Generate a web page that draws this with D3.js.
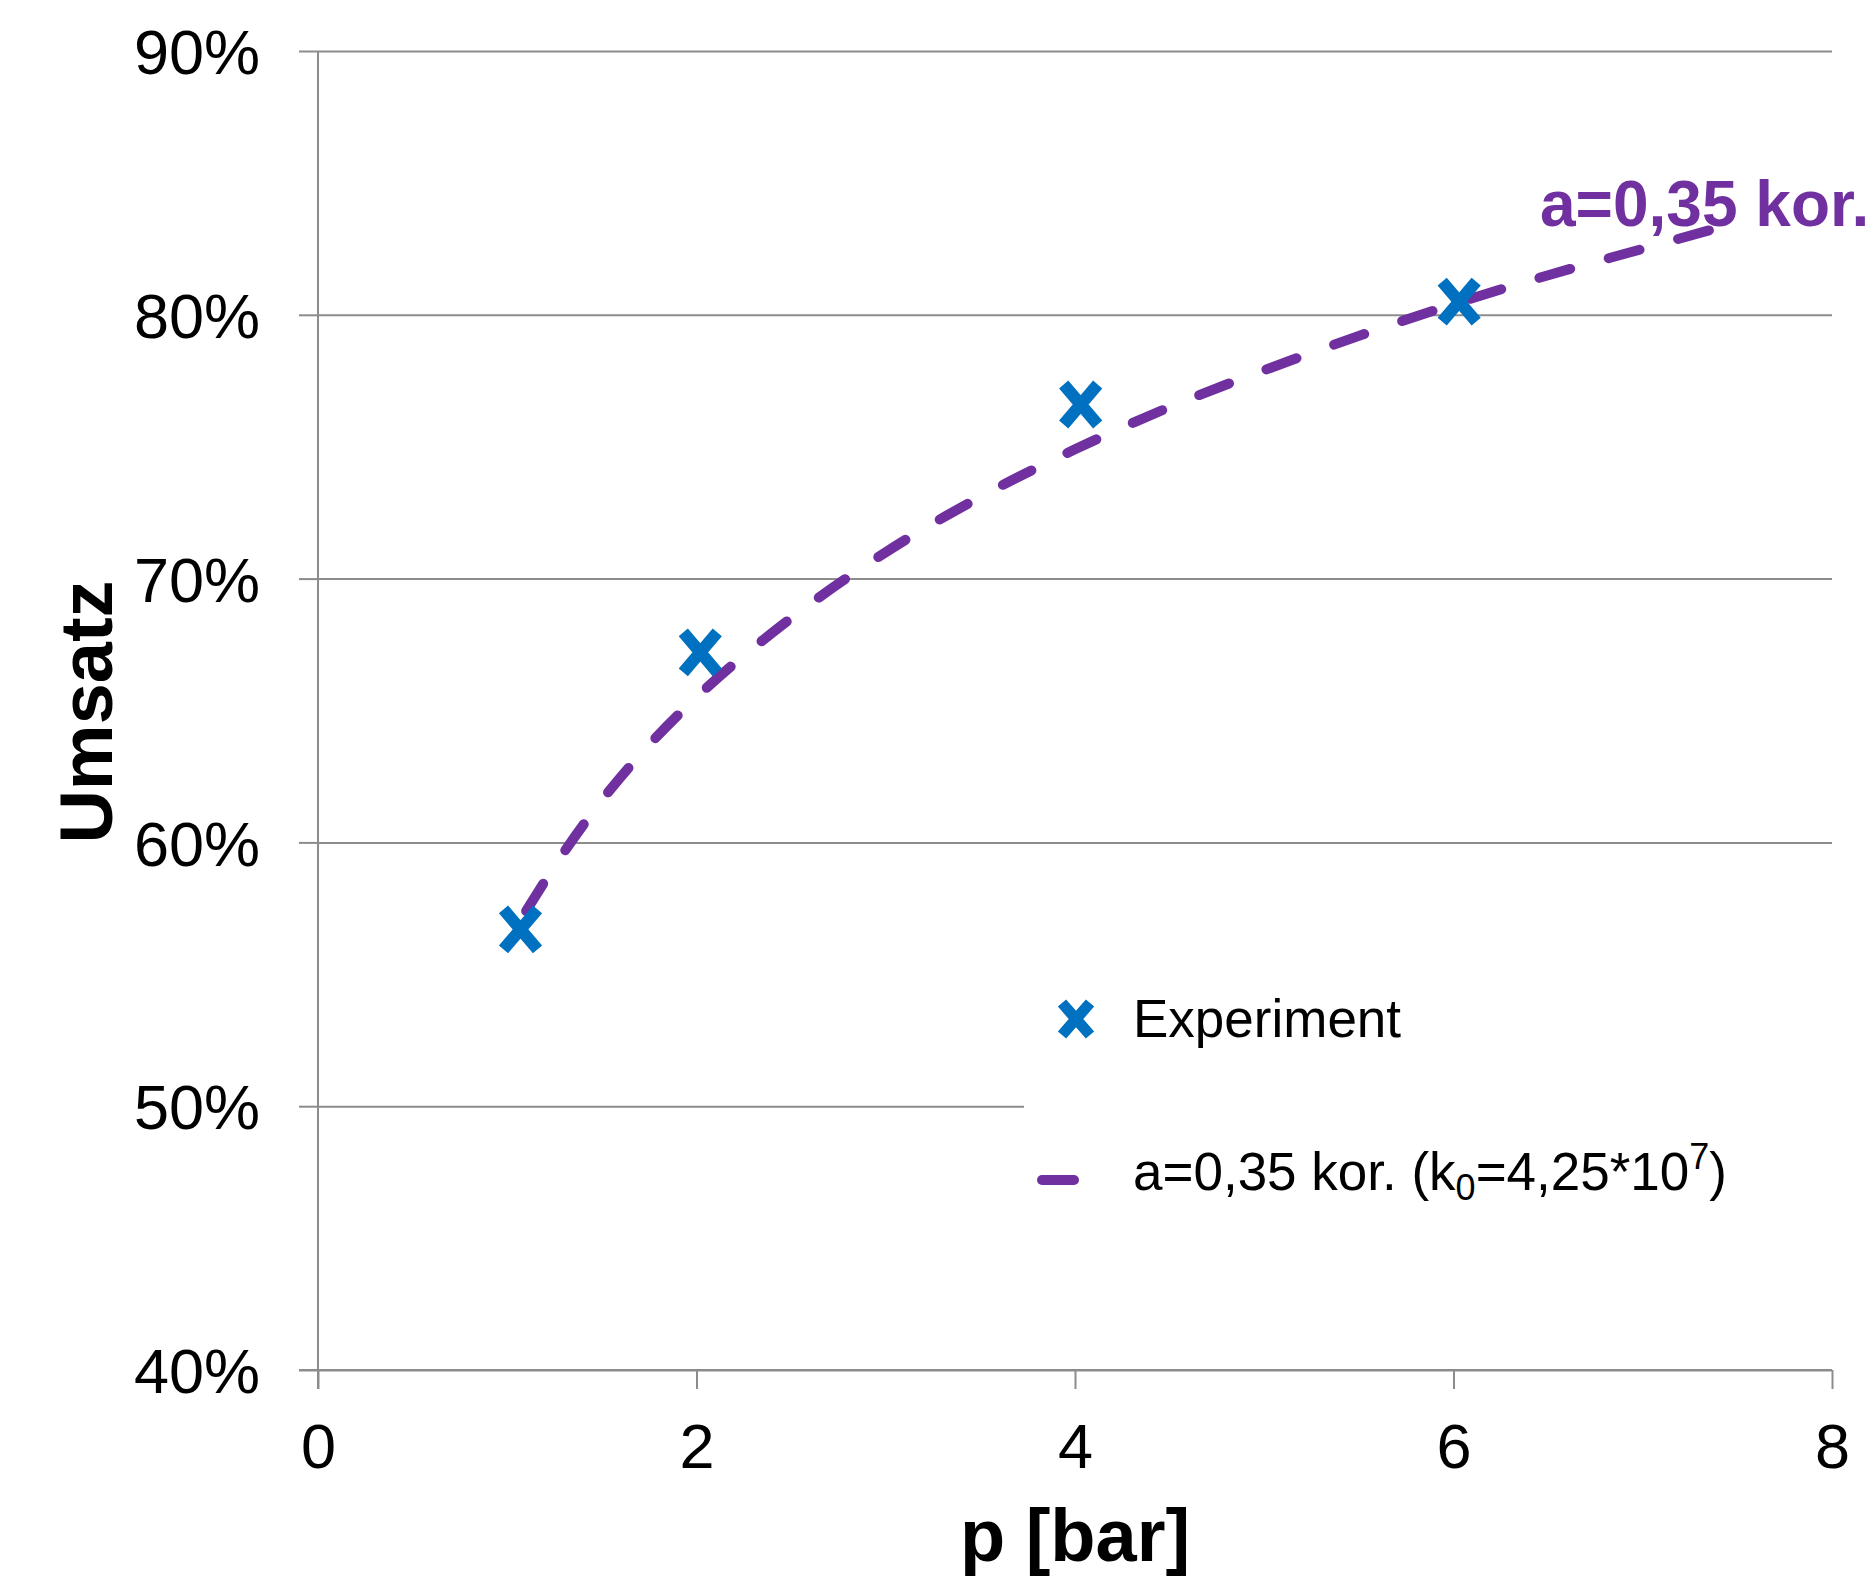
<!DOCTYPE html>
<html>
<head>
<meta charset="utf-8">
<script src="https://cdn.jsdelivr.net/npm/d3@7"></script>
<style>
  body { margin: 0; background: #fff; }
  svg { display: block; font-family: "Liberation Sans", Arial, sans-serif; }
</style>
</head>
<body>
<svg id="chart"></svg>
<script>
// Messpunkte
const pExperiment = [1.07, 2.02, 4.03, 6.03]
const umsatzExperiment = [56.7, 67.2, 76.6, 80.5]

// Modellkurve a=0,35 kor.
const pModell = [1.1, 1.25, 1.5, 1.75, 2, 2.5, 3, 3.5, 4, 4.5, 5, 5.5, 6, 6.5, 7, 7.4]
const umsatzModell = [57.4, 59.1, 61.6, 63.7, 65.5, 68.5, 71.0, 73.1, 74.9, 76.5, 77.9, 79.2, 80.4, 81.5, 82.5, 83.3]

const xTicks = [0, 2, 4, 6, 8]
const yTicks = [40, 50, 60, 70, 80, 90]

const width = 1876
const height = 1590
const plotLeft = 318, plotRight = 1832, plotTop = 51, plotBottom = 1370

const blue = '#0070C0'
const purple = '#7030A0'
const grid = '#8c8c8c'

const svg = d3.select('#chart').attr('width', width).attr('height', height)

const x = d3.scaleLinear().domain([0, 8]).range([plotLeft, plotRight])
const y = d3.scaleLinear().domain([40, 90]).range([plotBottom, plotTop])

// Gitterlinien
svg.append('g')
    .attr('transform', `translate(${plotLeft}, 0)`)
    .call(d3.axisLeft(y).tickValues(yTicks).tickSize(-(plotRight - plotLeft)).tickFormat(''))
    .call(g => g.select('.domain').remove())
    .call(g => g.selectAll('line').attr('stroke', grid).attr('stroke-width', 2))

// Legendenhintergrund verdeckt das Gitter
svg.append('rect')
    .attr('x', 1024).attr('y', 930)
    .attr('width', plotRight - 1024 + 2).attr('height', 330)
    .attr('fill', '#fff')

// y-Achse
svg.append('g')
    .attr('transform', `translate(${plotLeft}, 0)`)
    .call(d3.axisLeft(y).tickValues(yTicks).tickSize(19).tickPadding(39)
        .tickFormat(d => d + '%'))
    .call(g => g.select('.domain').attr('stroke', grid).attr('stroke-width', 2)
        .attr('d', `M0,${plotTop}V${plotBottom + 19}`))
    .call(g => g.selectAll('line').attr('stroke', grid).attr('stroke-width', 2))
    .call(g => g.selectAll('text').attr('font-size', 63).attr('fill', '#000')
        .attr('font-family', '"Liberation Sans", Arial, sans-serif').attr('dy', '0.36em'))

// x-Achse
svg.append('g')
    .attr('transform', `translate(0, ${plotBottom})`)
    .call(d3.axisBottom(x).tickValues(xTicks).tickSize(19).tickPadding(34))
    .call(g => g.select('.domain').attr('stroke', grid).attr('stroke-width', 2)
        .attr('d', `M${plotLeft - 19},0H${plotRight}`))
    .call(g => g.selectAll('line').attr('stroke', grid).attr('stroke-width', 2))
    .call(g => g.selectAll('text').attr('font-size', 63).attr('fill', '#000')
        .attr('font-family', '"Liberation Sans", Arial, sans-serif'))

// Achsentitel
svg.append('text')
    .attr('x', x(4)).attr('y', 1561)
    .attr('text-anchor', 'middle')
    .attr('font-size', 74).attr('font-weight', 'bold')
    .text('p [bar]')

svg.append('text')
    .attr('transform', `translate(112, 712) rotate(-90)`)
    .attr('text-anchor', 'middle')
    .attr('font-size', 74).attr('font-weight', 'bold')
    .text('Umsatz')

// Modellkurve
const line = d3.line()
    .x((d, i) => x(pModell[i]))
    .y(d => y(d))
    .curve(d3.curveMonotoneX)

svg.append('path')
    .datum(umsatzModell)
    .attr('d', line)
    .attr('fill', 'none')
    .attr('stroke', purple)
    .attr('stroke-width', 10)
    .attr('stroke-linecap', 'round')
    .attr('stroke-dasharray', '32 40')

// Kreuzmarker
const drawCross = (g, cx, cy, sx, sy, w) => {
    g.append('path')
        .attr('d', `M${cx - sx},${cy - sy}L${cx + sx},${cy + sy}M${cx + sx},${cy - sy}L${cx - sx},${cy + sy}`)
        .attr('stroke', blue)
        .attr('stroke-width', w)
        .attr('fill', 'none')
}

const marks = svg.append('g')
umsatzExperiment.forEach((v, i) => drawCross(marks, x(pExperiment[i]), y(v), 17, 20, 12))

// Beschriftung der Kurve
svg.append('text')
    .attr('x', 1540).attr('y', 226)
    .attr('font-size', 64).attr('font-weight', 'bold')
    .attr('fill', purple)
    .text('a=0,35 kor.')

// Legende
const legend = svg.append('g')
drawCross(legend, 1076, 1019, 14, 16, 11)
legend.append('text')
    .attr('x', 1133).attr('y', 1037)
    .attr('font-size', 53)
    .text('Experiment')

legend.append('line')
    .attr('x1', 1042).attr('x2', 1074)
    .attr('y1', 1180).attr('y2', 1180)
    .attr('stroke', purple).attr('stroke-width', 10)
    .attr('stroke-linecap', 'round')

const t = legend.append('text')
    .attr('x', 1133).attr('y', 1190)
    .attr('font-size', 53)
t.append('tspan').text('a=0,35 kor. (k')
t.append('tspan').attr('font-size', 36).attr('dy', 10).text('0')
t.append('tspan').attr('dy', -10).text('=4,25*10')
t.append('tspan').attr('font-size', 36).attr('dy', -21).text('7')
t.append('tspan').attr('dy', 21).text(')')
</script>
</body>
</html>
